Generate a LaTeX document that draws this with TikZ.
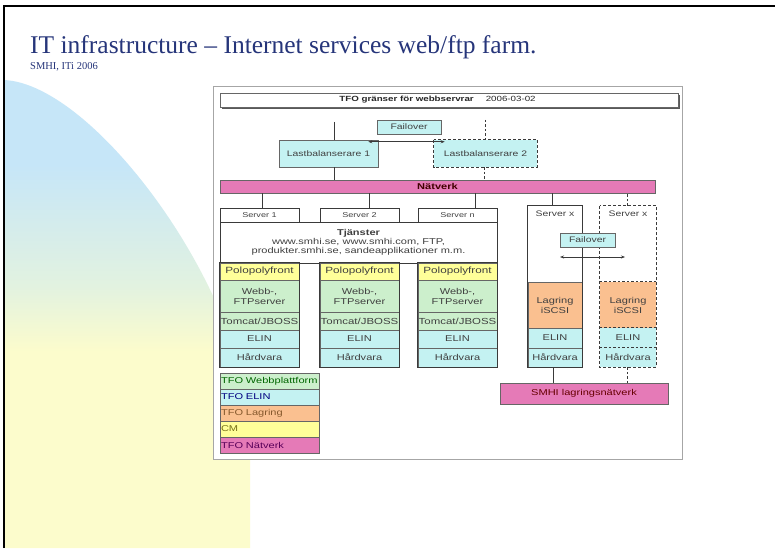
\documentclass[tikz,border=0pt]{standalone}
\usepackage{fontspec}
\setmainfont{Liberation Serif}
\newfontfamily\diag[FakeStretch=1.3]{Liberation Sans}
\usetikzlibrary{arrows.meta,calc}
\definecolor{cyanfill}{HTML}{C4F2F2}
\definecolor{greenfill}{HTML}{CCEFCC}
\definecolor{yellowfill}{HTML}{FFFF99}
\definecolor{orangefill}{HTML}{FAC090}
\definecolor{pinkfill}{HTML}{E57AB7}
\definecolor{titleblue}{HTML}{26357A}
\definecolor{bgblue}{HTML}{C6E6F8}
\definecolor{bgmid}{HTML}{E2F2E0}
\definecolor{bgyellow}{HTML}{FCFCCC}
\definecolor{edge}{HTML}{3A3A3A}
\definecolor{boxtext}{HTML}{404040}
\pgfdeclareverticalshading{bgshade}{100bp}{color(0bp)=(bgyellow); color(46bp)=(bgyellow); color(53bp)=(bgmid); color(66bp)=(bgblue); color(100bp)=(bgblue)}
\begin{document}
\begin{tikzpicture}[x=1pt,y=-1pt,
  box/.style={draw=gray!80!black, line width=0.5pt, inner sep=0pt, align=center,
    font=\diag\fontsize{8.5}{10}\selectfont, text=boxtext},
  hdr/.style={box, draw=edge, line width=0.9pt, fill=white, minimum width=79, minimum height=14,
    font=\diag\fontsize{7}{8}\selectfont},
  row/.style={box, minimum width=79},
  outline/.style={draw=edge, line width=1.1pt},
  dashoutline/.style={draw=edge, line width=1.1pt, dash pattern=on 3pt off 2pt},
  conn/.style={draw=edge, line width=0.6pt},
  dconn/.style={draw=edge, line width=0.6pt, dash pattern=on 2.5pt off 2pt},
  legend/.style={box, minimum width=99, minimum height=16, text width=97, align=left, inner sep=1pt},
  darrow/.style={conn, {Stealth[length=4pt,width=3pt]}-{Stealth[length=4pt,width=3pt]}}
]
\useasboundingbox (0,0) rectangle (775,548);
\fill[white] (0,0) rectangle (775,548);
% background gradient shape
\shade[shading=bgshade]
  (4,80) .. controls (95,84) and (245,290) .. (250,430) -- (250,548) -- (4,548) -- cycle;
% slide border
\draw[black, line width=2pt] (4,548) -- (4,6) -- (775,6);
% title
\node[anchor=base west, inner sep=0pt, text=titleblue, font=\fontsize{25.5}{27}\selectfont] (title) at (30,54)
  {IT infrastructure -- Internet services web/ftp farm.};
\node[anchor=base west, inner sep=0pt, text=titleblue, font=\fontsize{10.5}{12}\selectfont] (subtitle) at (30,70)
  {SMHI, ITi 2006};
% diagram frame
\node[draw=gray!70, line width=1pt, fill=white, minimum width=469, minimum height=372, inner sep=0pt] (frame) at (447.5,273) {};
% title box with shadow
\fill[gray!70!black] (222,95) rectangle (680,109);
\node[box, fill=white, minimum width=458, minimum height=14] (ttl) at (449,100) {};
\node[inner sep=0pt, font=\diag\fontsize{7.5}{9}\selectfont, text=black!85] (ttltext) at (437.5,100)
  {\textbf{TFO gränser för webbservrar}\hspace{1.6em}2006-03-02};
% load balancers
\node[box, fill=cyanfill, minimum width=64, minimum height=14, font=\diag\fontsize{8}{9}\selectfont] (fo1) at (409,127) {Failover};
\node[box, fill=cyanfill, minimum width=99, minimum height=27, font=\diag\fontsize{8}{9}\selectfont] (lb1) at (328.5,153.5) {Lastbalanserare 1};
\node[box, fill=cyanfill, draw=none, minimum width=103, minimum height=27, font=\diag\fontsize{8}{9}\selectfont] (lb2) at (485.5,153.5) {Lastbalanserare 2};
\draw[dashoutline, line width=0.8pt] (lb2.north west) rectangle (lb2.south east);
\coordinate (lbtop1) at (334,122);
\coordinate (lbtop2) at (485,120);
\draw[conn] (lbtop1) -- (lbtop1 |- lb1.north);
\draw[dconn] (lbtop2) -- (lbtop2 |- lb2.north);
\coordinate (fa1) at ($(lb1.north east)+(-10,2)$);
\coordinate (fa2) at ($(lb2.north west)+(11,2)$);
\draw[darrow] (fa1) -- (fa2);
% network bar
\node[box, fill=pinkfill, minimum width=435, minimum height=13, font=\diag\bfseries\fontsize{8.5}{10}\selectfont, text=black!75!red] (net) at (437.5,186.5) {Nätverk};
\draw[conn] ([xshift=5.5pt]lb1.south) -- ([xshift=5.5pt]lb1.south |- net.north);
\draw[dconn] ([xshift=-1pt]lb2.south) -- ([xshift=-1pt]lb2.south |- net.north);
% services box
\node[box, draw=edge, line width=0.9pt, fill=white, minimum width=277, minimum height=41] (tj) at (358.5,242.5)
  {\textbf{Tjänster}\\[-1pt] www.smhi.se, www.smhi.com, FTP,\\[-1pt] produkter.smhi.se, sandeapplikationer m.m.};
% server columns
\foreach \i/\cx/\dx in {1/259.5/2.5, 2/359.5/9.5, n/457.5/17.5} {
  \node[hdr] (h\i) at (\cx,215) {Server \i};
  \node[row, fill=yellowfill, minimum height=17, font=\diag\fontsize{9}{10}\selectfont] (p\i) at (\cx,271.5) {Polopolyfront};
  \node[row, fill=greenfill, minimum height=32] (w\i) at (\cx,296) {Webb-,\\ FTPserver};
  \node[row, fill=greenfill, minimum height=18, font=\diag\fontsize{8.8}{10}\selectfont] (t\i) at (\cx,321) {Tomcat/JBOSS};
  \node[row, fill=cyanfill, minimum height=18] (e\i) at (\cx,339) {ELIN};
  \node[row, fill=cyanfill, minimum height=19] (v\i) at (\cx,357.5) {Hårdvara};
  \draw[outline] (p\i.north west) rectangle (v\i.south east);
  \draw[conn] ([xshift=\dx pt]h\i.north) -- ([xshift=\dx pt]h\i.north |- net.south);
}
% server x (solid)
\node[box, fill=white, draw=none, minimum width=54, minimum height=76] (sxtop) at (555,244) {};
\node[inner sep=0pt, font=\diag\fontsize{8}{9}\selectfont, text=boxtext] (sxlbl) at (555,214) {Server x};
\node[row, fill=orangefill, minimum width=54, minimum height=46] (sxl) at (555,305) {Lagring\\ iSCSI};
\node[row, fill=cyanfill, minimum width=54, minimum height=20] (sxe) at (555,338) {ELIN};
\node[row, fill=cyanfill, minimum width=54, minimum height=19] (sxh) at (555,357.5) {Hårdvara};
\draw[outline] (sxtop.north west) rectangle (sxh.south east);
% server x (dashed)
\node[box, fill=white, draw=none, minimum width=56, minimum height=76] (dxtop) at (628,244) {};
\node[inner sep=0pt, font=\diag\fontsize{8}{9}\selectfont, text=boxtext] (dxlbl) at (628,214) {Server x};
\node[row, fill=orangefill, draw=none, minimum width=56, minimum height=46] (dxl) at (628,305) {Lagring\\ iSCSI};
\node[row, fill=cyanfill, draw=none, minimum width=56, minimum height=20] (dxe) at (628,338) {ELIN};
\node[row, fill=cyanfill, draw=none, minimum width=56, minimum height=19] (dxh) at (628,357.5) {Hårdvara};
\draw[dconn] (dxl.north west) -- (dxl.north east);
\draw[dconn] (dxe.north west) -- (dxe.north east);
\draw[dconn] (dxh.north west) -- (dxh.north east);
\draw[dashoutline] (dxtop.north west) rectangle (dxh.south east);
\draw[conn] ([xshift=-3pt]sxtop.north) -- ([xshift=-3pt]sxtop.north |- net.south);
\draw[dconn] ([xshift=-1pt]dxtop.north) -- ([xshift=-1pt]dxtop.north |- net.south);
% failover between storage servers
\node[box, fill=cyanfill, minimum width=55, minimum height=14, font=\diag\fontsize{8}{9}\selectfont] (fo2) at (587.5,240) {Failover};
\coordinate (fb1) at (560,257);
\coordinate (fb2) at (625,257);
\draw[darrow] (fb1) -- (fb2);
% storage network
\node[box, fill=pinkfill, minimum width=168, minimum height=21, text=black!60!red] (smhi) at (584,393.5) {SMHI lagringsnätverk};
\draw[conn] ([xshift=-2pt]sxh.south) -- ([xshift=-2pt]sxh.south |- smhi.north);
\draw[dconn] ([xshift=-1pt]dxh.south) -- ([xshift=-1pt]dxh.south |- smhi.north);
% legend
\node[legend, fill=greenfill, text=green!40!black] (lg1) at (269.5,381) {TFO Webbplattform};
\node[legend, fill=cyanfill, text=blue!50!black] (lg2) at (269.5,397) {TFO ELIN};
\node[legend, fill=orangefill, text=brown!70!black] (lg3) at (269.5,413) {TFO Lagring};
\node[legend, fill=yellowfill, text=olive!80!black] (lg4) at (269.5,429) {CM};
\node[legend, fill=pinkfill, text=violet!70!black] (lg5) at (269.5,445) {TFO Nätverk};
\end{tikzpicture}
\end{document}
